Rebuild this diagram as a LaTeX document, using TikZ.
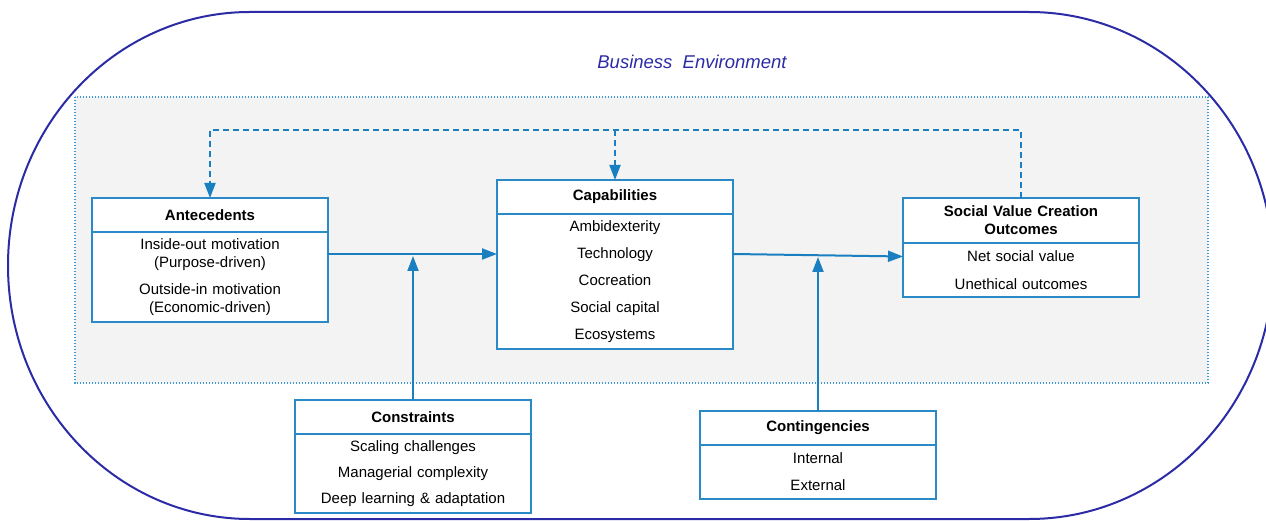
\documentclass[tikz,border=0pt]{standalone}
\usepackage{fontspec}
\setmainfont{Liberation Sans}
\usetikzlibrary{arrows.meta,calc}
\definecolor{envblue}{HTML}{2B2BA6}
\definecolor{boxblue}{HTML}{2A8AC8}
\definecolor{arrowblue}{HTML}{1A7FC0}
\definecolor{dotblue}{HTML}{3C9AD6}
\definecolor{panelgray}{HTML}{F3F3F3}
\newcommand\boxwidth{236pt}
\newcommand\boxtextstyle{\fontsize{15}{18}\selectfont}
\newcommand\itemgap{\\[9pt]}
\tikzset{
  boxpart/.style={draw=boxblue, fill=white, line width=1.7pt, outer sep=0pt,
    minimum width=\boxwidth, text width=228pt, align=center, inner xsep=4pt,
    inner ysep=0pt, font=\boxtextstyle},
  flowarrow/.style={draw=arrowblue, line width=2pt, -{Triangle[length=15pt,width=11pt]}},
  loopline/.style={flowarrow, line width=2pt, dash pattern=on 6pt off 4pt},
}
\newcommand\modelbox[7]{
  \node (#1 head) [boxpart, minimum height=#4pt, anchor=north west] at (#2, #3) {\textbf{#6}};
  \node (#1 body) [boxpart, minimum height=#5pt, anchor=north] at (#1 head.south) {#7};
}

\begin{document}
\begin{tikzpicture}[x=1pt, y=1pt]
    \useasboundingbox (0,0) rectangle (1266,-521);
    \draw [envblue, line width=2pt] (250,-12) -- (1029,-12)
       arc [start angle=90, end angle=-90, x radius=244, y radius=253.5]
       -- (250,-519)
       arc [start angle=270, end angle=90, x radius=242, y radius=253.5] -- cycle;
    \node (env) [text=envblue, font=\fontsize{18.5}{22}\selectfont\itshape] at (692,-62) {Business\ \ Environment};
    \draw [dotblue, fill=panelgray, line width=1.2pt, dash pattern=on 1.2pt off 1.8pt] (75,-97) rectangle (1208,-383);
    \modelbox{ante}{92}{-198}{34}{90}{Antecedents}{Inside-out motivation\\(Purpose-driven)\itemgap Outside-in motivation\\(Economic-driven)}
    \modelbox{cap}{497}{-180}{34}{135}{Capabilities}{Ambidexterity\itemgap Technology\itemgap Cocreation\itemgap Social capital\itemgap Ecosystems}
    \modelbox{svc}{903}{-198}{45}{54}{Social Value Creation\\Outcomes}{Net social value\\[10pt]Unethical outcomes}
    \modelbox{cons}{295}{-400}{34}{79}{Constraints}{Scaling challenges\\[8pt]Managerial complexity\\[8pt]Deep learning \& adaptation}
    \modelbox{cont}{700}{-411}{34}{54}{Contingencies}{Internal\itemgap External}
    \coordinate (flow) at (0,-254);
    \coordinate (loop) at (0,-130);
    \draw [flowarrow] (ante body.east |- flow) -- (cap body.west |- flow);
    \draw [flowarrow] (cons head.north) -- ($(cons head.north |- flow)+(0,-2)$);
    \draw [flowarrow] (cap body.east |- flow) -- ([yshift=-13.5pt]svc body.north west);
    \draw [flowarrow] (cont head.north) -- ($(cont head.north |- flow)+(0,-3)$);
    \draw [loopline] (svc head.north) -- (svc head.north |- loop) -| (ante head.north);
    \draw [loopline] (cap head.north |- loop) -- (cap head.north);
\end{tikzpicture}
\end{document}
